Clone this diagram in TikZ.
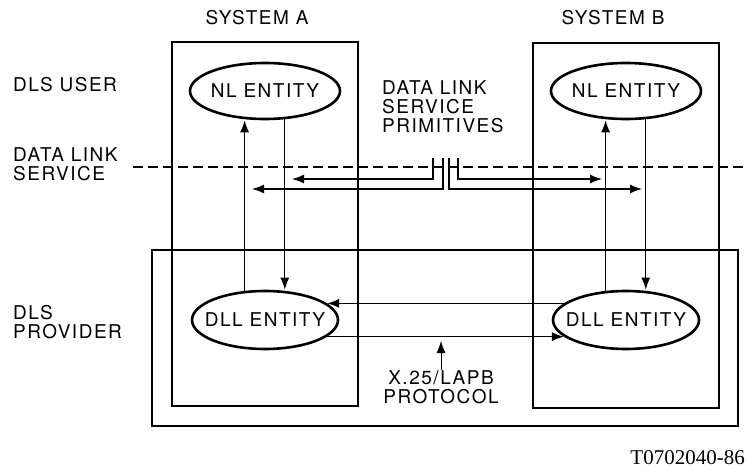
\documentclass[tikz,border=0pt]{standalone}
\usepackage{fontspec}
\setmainfont[LetterSpace=8]{TeX Gyre Heros}
\newfontfamily\codefont{Liberation Serif}
\usetikzlibrary{shapes,arrows.meta,positioning}

\begin{document}
\begin{tikzpicture}[x=1pt,y=-1pt,>={Latex[length=12pt,width=9pt]},
	lbl/.style={font=\fontsize{19}{19}\selectfont,align=left,inner sep=0pt},
	ent/.style={draw,ellipse,line width=2.6pt,inner xsep=-15pt,inner ysep=0pt,font=\fontsize{19}{19}\selectfont},
	sysbox/.style={draw,line width=1.3pt,minimum width=186pt,minimum height=364pt,inner sep=0pt},
	link/.style={->,line width=1.3pt}]
		\useasboundingbox (0,0) rectangle (748,468);
		% boxes
		\node[sysbox] (sysA) at (265,224) {};
		\node[sysbox,minimum height=365pt] (sysB) at (626,225.5) {};
		\node[draw,line width=1.3pt,minimum width=586pt,minimum height=176pt,inner sep=0pt] (prov) at (445,338) {};
		% labels
		\node[lbl] (titleA) at (257,18) {SYSTEM A};
		\node[lbl] (titleB) at (613,18) {SYSTEM B};
		\node[lbl,anchor=west] (user) at (13,85) {DLS USER};
		\node[lbl,anchor=west] (service) at (13,164) {DATA LINK\\SERVICE};
		\node[lbl,anchor=west] (provider) at (13,322) {DLS\\PROVIDER};
		\node[lbl,anchor=west] (prims) at (382,107) {DATA LINK\\SERVICE\\PRIMITIVES};
		\node[lbl,align=center] (proto) at (441,387) {X.25/LAPB\\PROTOCOL};
		\node[font=\codefont\fontsize{21}{21}\selectfont,anchor=east,inner sep=0pt] (ref) at (745,458) {T0702040-86};
		% entities
		\node[ent,minimum width=150pt,minimum height=56pt] (nlA) at (265,91) {NL ENTITY};
		\node[ent,minimum width=150pt,minimum height=56pt] (nlB) at (626,91) {NL ENTITY};
		\node[ent,minimum width=146pt,minimum height=58pt] (dllA) at (265,320) {DLL ENTITY};
		\node[ent,minimum width=146pt,minimum height=58pt] (dllB) at (626,320) {DLL ENTITY};
		\draw[link] (dllA.125) -- (dllA.125 |- nlA.south);
		\draw[link] (nlA.305) -- (nlA.305 |- dllA.north);
		\draw[link] (dllB.125) -- (dllB.125 |- nlB.south);
		\draw[link] (nlB.305) -- (nlB.305 |- dllB.north);
		\draw[link] (dllB.165) -- (dllA.15);
		\draw[link] (dllA.-15) -- (dllB.195);
		% service boundary and primitives
		\coordinate (dlsL) at (133,167);
		\coordinate (dlsR) at (748,167);
		\draw[line width=1.3pt,dash pattern=on 10pt off 5pt] (dlsL) -- (dlsR);
		\coordinate (primA1) at (433,158);
		\coordinate (primA2) at (443,158);
		\coordinate (primB2) at (449,158);
		\coordinate (primB1) at (458,158);
		\coordinate (tipA1) at (292,179);
		\coordinate (tipA2) at (252,189);
		\coordinate (tipB2) at (642,189);
		\coordinate (tipB1) at (602,179);
		\draw[link] (primA1) |- (tipA1);
		\draw[link] (primA2) |- (tipA2);
		\draw[link] (primB2) |- (tipB2);
		\draw[link] (primB1) |- (tipB1);
		% protocol
		\coordinate (protoTip) at (441,341);
		\draw[link,line width=0.8pt] (proto.north) -- (protoTip);
	\end{tikzpicture}
\end{document}
